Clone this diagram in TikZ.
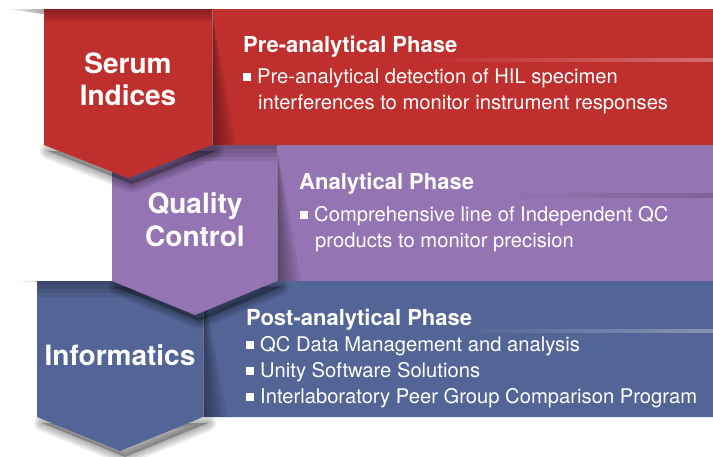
\documentclass[tikz,border=0pt]{standalone}
\usepackage{fontspec}
\setmainfont{TeX Gyre Heros}
\definecolor{cred}{RGB}{191,47,46}
\definecolor{cpur}{RGB}{148,116,178}
\definecolor{cblu}{RGB}{82,101,150}
\newcommand\bsq{\rule[2.5pt]{7.5pt}{7.5pt}\hspace{6.5pt}}
\begin{document}
\begin{tikzpicture}[x=1pt,y=-1pt,
  bigl/.style={text=white,font=\fontsize{28}{31}\selectfont\bfseries,inner sep=0pt,anchor=base},
  headl/.style={text=white,font=\fontsize{22}{25}\selectfont\bfseries,inner sep=0pt,anchor=base west},
  bodyl/.style={text=white,font=\fontsize{20.2}{24}\selectfont,inner sep=0pt,anchor=base west},
  shd/.style={black,opacity=0.08,line join=round},
  fold/.style={black,opacity=0.07}]
\useasboundingbox (0,0) rectangle (713,456);
% ---------- page-curl shadows on white ----------
\shade[left color=white, right color=black!35] (5,9) -- (44,9) -- (44,14) -- cycle;
\shade[left color=white, right color=black!35] (5,281) -- (112,281) -- (112,286) -- cycle;
% ---------- blue band ----------
\foreach \w in {16,12,8,4}
  \filldraw[shd,line width=\w pt] (42,423) -- (208,423) -- (125,457) -- cycle;
\fill[cblu] (37,281) -- (713,281) -- (713,417) -- (203,417) -- (120,451) -- (37,417) -- cycle;
\foreach \w in {4,8,12,16,20,24}
  \fill[fold] (203,284) -- (203,417) -- (203+\w,417) -- cycle;
\draw[black!40,opacity=0.6,line width=0.6pt] (203,282) -- (203,417);
\shade[left color=cblu, right color=cblu!70!white] (460,329) rectangle (713,332);
% ---------- purple band ----------
\foreach \w in {16,12,8,4}
  \filldraw[shd,line width=\w pt] (116,287) -- (281,287) -- (199,321) -- cycle;
\foreach \h in {4,8,12,16}
  \fill[fold] (37,281) rectangle (203,281+\h);
\fill[cpur] (112,145) -- (713,145) -- (713,281) -- (277,281) -- (195,315) -- (112,281) -- cycle;
\foreach \w in {4,8,12,16,20,24}
  \fill[fold] (277,148) -- (277,281) -- (277+\w,281) -- cycle;
\draw[black!40,opacity=0.6,line width=0.6pt] (277,146) -- (277,281);
\shade[left color=cpur, right color=cpur!85!black] (500,193) rectangle (713,197);
% ---------- red band ----------
\foreach \w in {16,12,8,4}
  \filldraw[shd,line width=\w pt] (48,151) -- (216,151) -- (132,184) -- cycle;
\foreach \h in {4,8,12,16}
  \fill[fold] (112,145) rectangle (277,145+\h);
\fill[cred] (44,9) -- (713,9) -- (713,145) -- (212,145) -- (128,178) -- (44,145) -- cycle;
\foreach \h in {3,6,9,12}
  \fill[fold] (44,9) rectangle (212,9+\h);
\foreach \w in {4,8,12,16,20,24}
  \fill[fold] (212,12) -- (212,145) -- (212+\w,145) -- cycle;
\draw[black!40,opacity=0.6,line width=0.6pt] (212,10) -- (212,145);
\shade[left color=cred, right color=cred!70!white] (413,58) rectangle (713,61);
% ---------- texts ----------
\node[bigl] (s1) at (128,73) {Serum};
\node[bigl] (s2) at (128,105) {Indices};
\node[bigl] (q1) at (195,213) {Quality};
\node[bigl] (q2) at (195,246) {Control};
\node[bigl] (i1) at (120,365) {Informatics};
\node[headl] (rh) at (243,52) {Pre-analytical Phase};
\node[bodyl] (rb1) at (243,83) {\bsq Pre-analytical detection of HIL specimen};
\node[bodyl] (rb2) at (258,109) {interferences to monitor instrument responses};
\node[headl] (ph) at (299,189) {Analytical Phase};
\node[bodyl] (pb1) at (300,221) {\bsq Comprehensive line of Independent QC};
\node[bodyl] (pb2) at (315,247) {products to monitor precision};
\node[headl] (bh) at (246,325) {Post-analytical Phase};
\node[bodyl] (bb1) at (246,351) {\bsq QC Data Management and analysis};
\node[bodyl] (bb2) at (246,377) {\bsq Unity Software Solutions};
\node[bodyl] (bb3) at (246,403) {\bsq Interlaboratory Peer Group Comparison Program};
\end{tikzpicture}
\end{document}
